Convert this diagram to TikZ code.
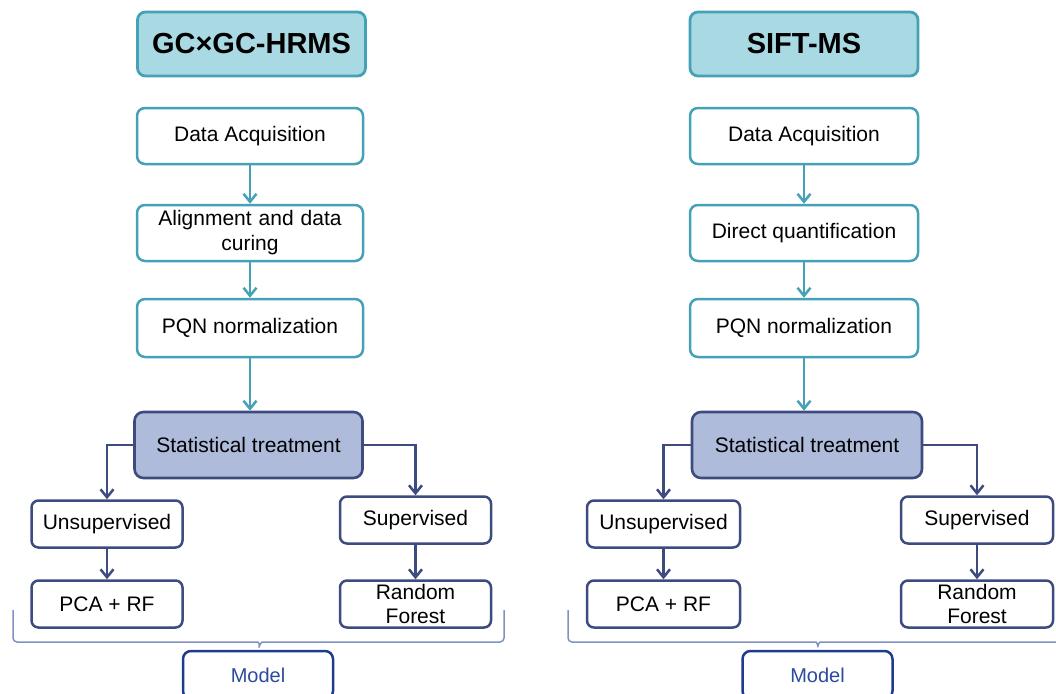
\documentclass[tikz,border=0pt]{standalone}
\usepackage{fontspec}
\setmainfont{Liberation Sans}
\usetikzlibrary{arrows.meta}

\definecolor{tealline}{HTML}{45A2B6}
\definecolor{tealfill}{HTML}{A9D9E3}
\definecolor{navyline}{HTML}{3D4B7F}
\definecolor{navyfill}{HTML}{AEBBDB}
\definecolor{modelline}{HTML}{1F3C8C}
\definecolor{modeltext}{HTML}{2D4A9B}
\definecolor{bracecol}{HTML}{7F92C2}

\begin{document}
\begin{tikzpicture}[x=1pt,y=-1pt,
  titlebox/.style={draw=tealline, fill=tealfill, line width=2.8pt, rounded corners=8pt,
    minimum width=228pt, minimum height=64pt, font=\fontsize{29}{33}\selectfont\bfseries},
  stepbox/.style={draw=tealline, fill=white, line width=2.5pt, rounded corners=8pt,
    minimum width=226pt, minimum height=56pt, align=center, font=\fontsize{21}{25}\selectfont},
  treatbox/.style={draw=navyline, fill=navyfill, line width=2.6pt, rounded corners=9pt,
    minimum width=228pt, minimum height=66pt, font=\fontsize{21}{25}\selectfont},
  leafbox/.style={draw=navyline, fill=white, line width=2.5pt, rounded corners=7pt,
    minimum width=151pt, minimum height=47pt, align=center, inner sep=1pt, font=\fontsize{21}{24}\selectfont},
  modelbox/.style={draw=modelline, fill=white, line width=2.5pt, rounded corners=8pt,
    minimum width=150pt, minimum height=48pt, text=modeltext, font=\fontsize{20}{24}\selectfont},
  tealarrow/.style={draw=tealline, line width=2.5pt, -{Straight Barb[length=8pt,width=13pt]}},
  navyarrow/.style={draw=navyline, line width=2.5pt, -{Straight Barb[length=8pt,width=13pt]}},
  bracepath/.style={draw=bracecol, line width=1.5pt, rounded corners=4pt}]

\useasboundingbox (0,0) rectangle (1056,693);

% GCxGC-HRMS
\node[titlebox] (v1) at (251.5,44) {GC×GC-HRMS};
\node[stepbox] (v2) at (250,136) {Data Acquisition};
\node[stepbox, text width=210pt] (v3) at (250,233) {Alignment and data\\curing};
\node[stepbox, minimum height=58pt] (v4) at (250,328) {PQN normalization};
\node[treatbox] (v5) at (248.5,445) {Statistical treatment};
\node[leafbox] (v6) at (107,524) {Unsupervised};
\node[leafbox] (v7) at (415.5,520) {Supervised};
\node[leafbox] (v8) at (107,604) {PCA + RF};
\node[leafbox] (v9) at (415.5,604) {Random\\Forest};
\node[modelbox] (v10) at (258,675) {Model};
\draw[tealarrow] (v2) edge (v3);
\draw[tealarrow] (v3) edge (v4);
\draw[tealarrow] (v4.south) -- (v4.south |- v5.north);
\draw[navyarrow] (v5.west) -| (v6.north);
\draw[navyarrow] (v5.east) -| (v7.north);
\draw[navyarrow] (v6) edge (v8);
\draw[navyarrow] (v7) edge (v9);
\coordinate (c1) at (13,610);
\coordinate (c2) at (504,610);
\draw[bracepath] (c1) -- (13,642) -- (254,642)
  .. controls (258,642) and (260,644) .. (v10.north)
  .. controls (260,644) and (262,642) .. (266,642) -- (504,642) -- (c2);

% SIFT-MS
\node[titlebox] (v11) at (804,44) {SIFT-MS};
\node[stepbox, minimum width=228pt] (v12) at (804,136) {Data Acquisition};
\node[stepbox, minimum width=228pt] (v13) at (804,233) {Direct quantification};
\node[stepbox, minimum width=228pt, minimum height=58pt] (v14) at (804,328) {PQN normalization};
\node[treatbox, minimum width=230pt] (v15) at (807,445) {Statistical treatment};
\node[leafbox, minimum width=153pt] (v16) at (663.5,524) {Unsupervised};
\node[leafbox, minimum width=152pt] (v17) at (977,520) {Supervised};
\node[leafbox, minimum width=153pt] (v18) at (663.5,604) {PCA + RF};
\node[leafbox, minimum width=152pt] (v19) at (977,604) {Random\\Forest};
\node[modelbox] (v20) at (817.5,675) {Model};
\draw[tealarrow] (v12) edge (v13);
\draw[tealarrow] (v13) edge (v14);
\draw[tealarrow] (v14.south) -- (v14.south |- v15.north);
\draw[navyarrow] (v15.west) -| (v16.north);
\draw[navyarrow] (v15.east) -| (v17.north);
\draw[navyarrow] (v16) edge (v18);
\draw[navyarrow] (v17) edge (v19);
\coordinate (c3) at (568,610);
\coordinate (c4) at (1072,610);
\draw[bracepath] (c3) -- (568,642) -- (812,642)
  .. controls (816,642) and (818,644) .. (v20.north)
  .. controls (818,644) and (820,642) .. (824,642) -- (1072,642) -- (c4);
\end{tikzpicture}
\end{document}
